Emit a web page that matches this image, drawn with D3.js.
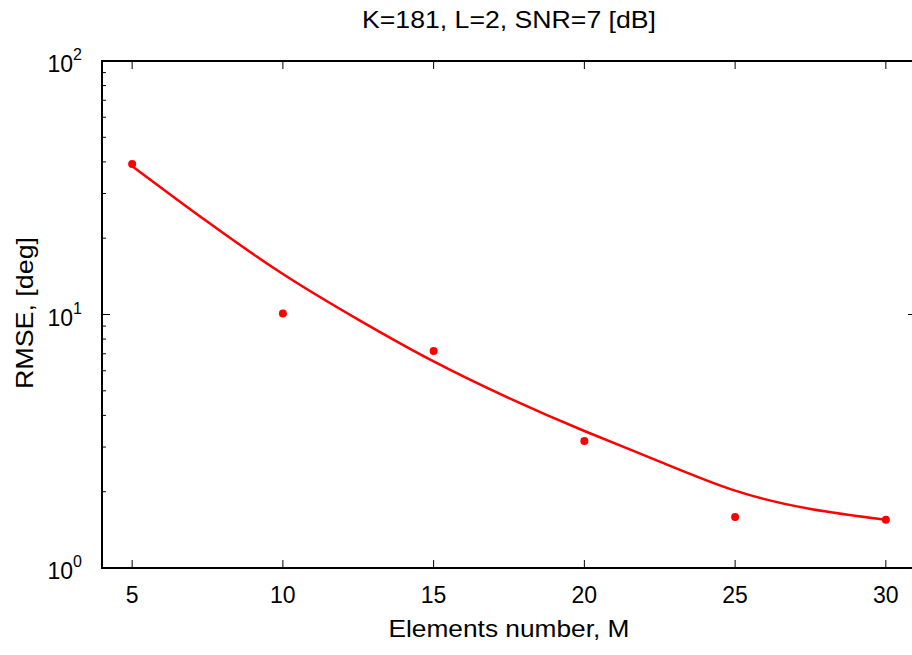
<!DOCTYPE html>
<html><head><meta charset="utf-8">
<script src="https://cdn.jsdelivr.net/npm/d3@7"></script>
<style>body{margin:0;background:#fff}svg{display:block}text{font-family:"Liberation Sans",Arial,sans-serif;fill:#000}</style>
</head><body>
<svg id="c" width="912" height="655"></svg>
<script>
const title = "K=181, L=2, SNR=7 [dB]";
const xLabel = "Elements number, M";
const yLabel = "RMSE, [deg]";
const xTicks = [5, 10, 15, 20, 25, 30];
const yMajor = [1, 10, 100];
const yTickExp = ["0", "1", "2"];
const pointsX = [5, 10, 15, 20, 25, 30];
const pointsY = [39.2, 10.1, 7.18, 3.17, 1.59, 1.55];
const curveX = [5, 7.5, 10, 12.5, 15, 17.5, 20, 22.5, 25, 27.5, 30];
const curveY = [38.5, 23.2, 14.45, 9.55, 6.53, 4.68, 3.47, 2.63, 2.02, 1.71, 1.55];

const svg = d3.select("#c");
const L = 102, R = 916, T = 61, B = 568;
const x = d3.scaleLinear().domain([4, 31]).range([L, R]);
const y = d3.scaleLog().domain([1, 100]).range([B, T]);
const red = "#ff0000";

const minors = [];
for (const d of [1, 10]) for (let k = 2; k <= 9; k++) minors.push(d * k);
const g = svg.append("g");
const tick = (x1, x2, y1, y2) => g.append("line").attr("x1", x1).attr("x2", x2).attr("y1", y1).attr("y2", y2).attr("stroke", "#000").attr("stroke-width", 1);
minors.forEach(v => { tick(L, L + 4, y(v), y(v)); tick(R - 4, R, y(v), y(v)); });
yMajor.forEach(v => { tick(L, L + 8, y(v), y(v)); tick(R - 8, R, y(v), y(v)); });
xTicks.forEach(v => { tick(x(v), x(v), B, B - 8); tick(x(v), x(v), T, T + 8); });

svg.append("rect").attr("x", L).attr("y", T).attr("width", R - L).attr("height", B - T)
  .attr("fill", "none").attr("stroke", "#000").attr("stroke-width", 2);

svg.append("g").selectAll("text").data(xTicks).join("text")
  .attr("x", d => x(d)).attr("y", 603).attr("text-anchor", "middle").attr("font-size", 23).text(d => d);

yMajor.forEach((v, i) => {
  svg.append("text").attr("x", 73).attr("y", y(v) + 11).attr("text-anchor", "end").attr("font-size", 23).text("10");
  svg.append("text").attr("x", 73).attr("y", y(v) - 1).attr("font-size", 16).text(yTickExp[i]);
});

svg.append("text").attr("x", (L + R) / 2).attr("y", 28).attr("text-anchor", "middle").attr("font-size", 24)
  .attr("textLength", 294).attr("lengthAdjust", "spacingAndGlyphs").text(title);
svg.append("text").attr("x", (L + R) / 2).attr("y", 637).attr("text-anchor", "middle").attr("font-size", 24)
  .attr("textLength", 241).attr("lengthAdjust", "spacingAndGlyphs").text(xLabel);
svg.append("text").attr("transform", `translate(33,${(237 + 389) / 2}) rotate(-90)`).attr("text-anchor", "middle").attr("font-size", 24)
  .attr("textLength", 152).attr("lengthAdjust", "spacingAndGlyphs").text(yLabel);

const line = d3.line().x((d, i) => x(curveX[i])).y(d => y(d)).curve(d3.curveNatural);
svg.append("path").datum(curveY).attr("d", line).attr("fill", "none").attr("stroke", red).attr("stroke-width", 2.5);

svg.append("g").selectAll("circle").data(pointsY).join("circle")
  .attr("cx", (d, i) => x(pointsX[i])).attr("cy", d => y(d)).attr("r", 4).attr("fill", red);
</script>
</body></html>
